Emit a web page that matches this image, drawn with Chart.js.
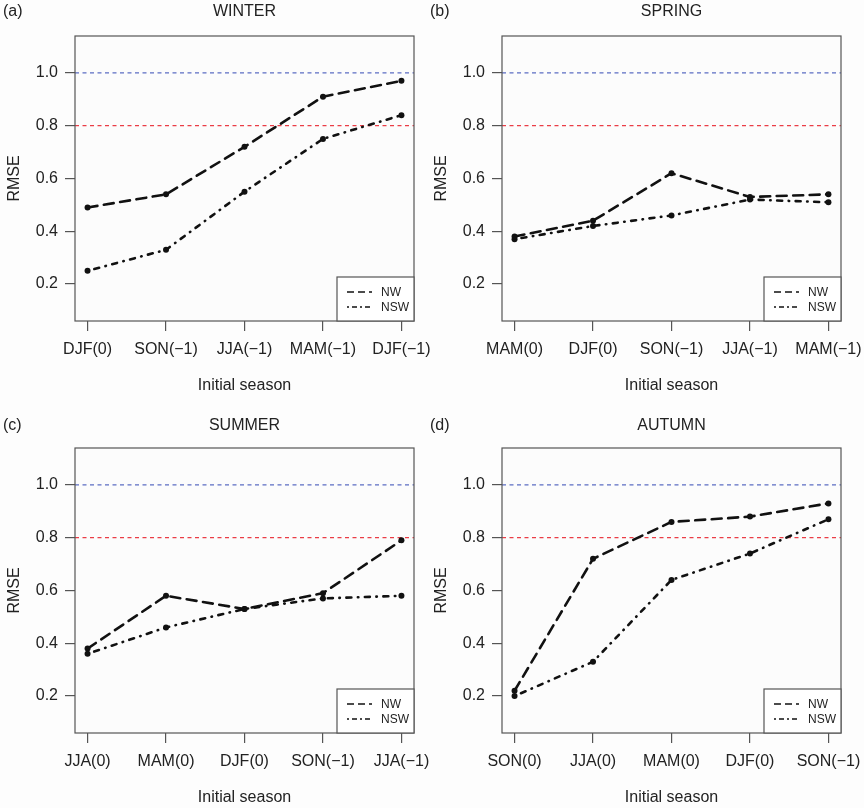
<!DOCTYPE html>
<html>
<head>
<meta charset="utf-8">
<script src="https://cdn.jsdelivr.net/npm/chart.js@4.4.0/dist/chart.umd.min.js"></script>
<style>
  body { margin: 0; background: #fdfdfd; width: 864px; height: 808px; overflow: hidden; position: relative; }
  .panel { position: absolute; width: 437px; height: 396px; }
</style>
</head>
<body>
<div class="panel" style="left:0;top:0"><canvas id="winter" width="437" height="396"></canvas></div>
<div class="panel" style="left:427px;top:0"><canvas id="spring" width="437" height="396"></canvas></div>
<div class="panel" style="left:0;top:412px"><canvas id="summer" width="437" height="396"></canvas></div>
<div class="panel" style="left:427px;top:412px"><canvas id="autumn" width="437" height="396"></canvas></div>
<script>
// values
const winterSeasons = ["DJF(0)", "SON(−1)", "JJA(−1)", "MAM(−1)", "DJF(−1)"];
const winterNW = [0.49, 0.54, 0.72, 0.91, 0.97];
const winterNSW = [0.25, 0.33, 0.55, 0.75, 0.84];

const springSeasons = ["MAM(0)", "DJF(0)", "SON(−1)", "JJA(−1)", "MAM(−1)"];
const springNW = [0.38, 0.44, 0.62, 0.53, 0.54];
const springNSW = [0.37, 0.42, 0.46, 0.52, 0.51];

const summerSeasons = ["JJA(0)", "MAM(0)", "DJF(0)", "SON(−1)", "JJA(−1)"];
const summerNW = [0.38, 0.58, 0.53, 0.59, 0.79];
const summerNSW = [0.36, 0.46, 0.53, 0.57, 0.58];

const autumnSeasons = ["SON(0)", "JJA(0)", "MAM(0)", "DJF(0)", "SON(−1)"];
const autumnNW = [0.22, 0.72, 0.86, 0.88, 0.93];
const autumnNSW = [0.20, 0.33, 0.64, 0.74, 0.87];

const yTicks = [0.2, 0.4, 0.6, 0.8, 1.0];
const yRange = [0.06, 1.14];
const xRange = [0.84, 5.16];
const refLevels = [1.0, 0.8];
const refColors = ["#5b6cc2", "#ea3d46"];

const FONT = "'Liberation Sans', Arial, Helvetica, sans-serif";
const INK = "#222";
const FRAME = "#555";

const panelDecor = {
    id: "panelDecor",
    beforeDraw(chart) {
        const { ctx, chartArea: a } = chart;
        ctx.save();
        ctx.fillStyle = "#fcfcfc";
        ctx.fillRect(a.left, a.top, a.right - a.left, a.bottom - a.top);
        ctx.restore();
    },
    afterDraw(chart) {
        const { ctx, chartArea: a } = chart;
        const o = chart.options.plugins.panelDecor;
        ctx.save();
        // frame
        ctx.strokeStyle = FRAME;
        ctx.lineWidth = 1.2;
        ctx.strokeRect(a.left, a.top, a.right - a.left, a.bottom - a.top);

        // tag and title
        ctx.fillStyle = INK;
        ctx.font = "16px " + FONT;
        ctx.textBaseline = "middle";
        ctx.textAlign = "left";
        ctx.fillText(o.tag, 3, o.titleY);
        ctx.textAlign = "center";
        ctx.fillText(o.title, (a.left + a.right) / 2, o.titleY);

        // legend box bottom-right
        const items = chart.data.datasets.filter(d => d.label);
        const w = 77, h = 44;
        const lx = a.right - w, ly = a.bottom - h;
        ctx.fillStyle = "#ffffff";
        ctx.fillRect(lx, ly, w, h);
        ctx.strokeStyle = FRAME;
        ctx.lineWidth = 1.2;
        ctx.strokeRect(lx, ly, w, h);
        ctx.font = "12px " + FONT;
        ctx.textAlign = "left";
        items.forEach((d, i) => {
            const y = ly + 15 + i * 15;
            ctx.strokeStyle = d.borderColor;
            ctx.lineWidth = 1.6;
            ctx.setLineDash(d.legendDash);
            ctx.beginPath();
            ctx.moveTo(lx + 10, y);
            ctx.lineTo(lx + 35, y);
            ctx.stroke();
            ctx.setLineDash([]);
            ctx.fillStyle = INK;
            ctx.fillText(d.label, lx + 44, y + 1);
        });
        ctx.restore();
    }
};

function makePanel(id, tag, title, titleY, seasons, nw, nsw) {
    const pts = vals => vals.map((v, i) => ({ x: i + 1, y: v }));
    const series = {
        borderColor: "#111",
        backgroundColor: "#111",
        borderWidth: 2.6,
        borderCapStyle: "round",
        pointRadius: 3,
        pointBorderWidth: 0,
        pointBackgroundColor: "#111",
        tension: 0
    };
    const refs = refLevels.map((lvl, k) => ({
        label: "",
        data: xRange.map(x => ({ x: x, y: lvl })),
        borderColor: refColors[k],
        borderWidth: 1.2,
        borderDash: [4, 3.5],
        pointRadius: 0,
        order: 10
    }));

    new Chart(document.getElementById(id), {
        type: "line",
        data: {
            datasets: [
                Object.assign({ label: "NW", data: pts(nw), borderDash: [10, 6.5], legendDash: [7, 4], order: 1 }, series),
                Object.assign({ label: "NSW", data: pts(nsw), borderDash: [0.5, 6.5, 5, 6.5], legendDash: [2, 3, 5, 3], order: 2 }, series),
                ...refs
            ]
        },
        options: {
            responsive: false,
            animation: false,
            layout: { padding: { left: 0, top: 36, right: 23, bottom: 0 } },
            plugins: {
                legend: { display: false },
                tooltip: { enabled: false },
                panelDecor: { tag: tag, title: title, titleY: titleY }
            },
            scales: {
                x: {
                    type: "linear",
                    min: xRange[0],
                    max: xRange[1],
                    afterBuildTicks: s => { s.ticks = seasons.map((_, i) => ({ value: i + 1 })); },
                    afterFit: s => { s.height = 75; s.paddingLeft = 0; s.paddingRight = 0; },
                    ticks: {
                        autoSkip: false,
                        maxRotation: 0,
                        padding: 9,
                        color: INK,
                        font: { family: FONT, size: 16 },
                        callback: (v, i) => seasons[i]
                    },
                    grid: { drawOnChartArea: false, tickLength: 10, color: FRAME, lineWidth: 1.2 },
                    border: { display: false },
                    title: {
                        display: true,
                        text: "Initial season",
                        color: INK,
                        font: { family: FONT, size: 16 },
                        padding: { top: 0, bottom: 1 }
                    }
                },
                y: {
                    type: "linear",
                    min: yRange[0],
                    max: yRange[1],
                    afterBuildTicks: s => { s.ticks = yTicks.map(v => ({ value: v })); },
                    afterFit: s => { s.width = 75; s.paddingTop = 0; s.paddingBottom = 0; },
                    ticks: {
                        padding: 7,
                        color: INK,
                        font: { family: FONT, size: 16 },
                        callback: v => v.toFixed(1)
                    },
                    grid: { drawOnChartArea: false, tickLength: 10, color: FRAME, lineWidth: 1.2 },
                    border: { display: false },
                    title: {
                        display: true,
                        text: "RMSE",
                        color: INK,
                        font: { family: FONT, size: 16 },
                        padding: { top: 5, bottom: 0 }
                    }
                }
            }
        },
        plugins: [panelDecor]
    });
}

makePanel("winter", "(a)", "WINTER", 12, winterSeasons, winterNW, winterNSW);
makePanel("spring", "(b)", "SPRING", 12, springSeasons, springNW, springNSW);
makePanel("summer", "(c)", "SUMMER", 14, summerSeasons, summerNW, summerNSW);
makePanel("autumn", "(d)", "AUTUMN", 14, autumnSeasons, autumnNW, autumnNSW);
</script>
</body>
</html>
